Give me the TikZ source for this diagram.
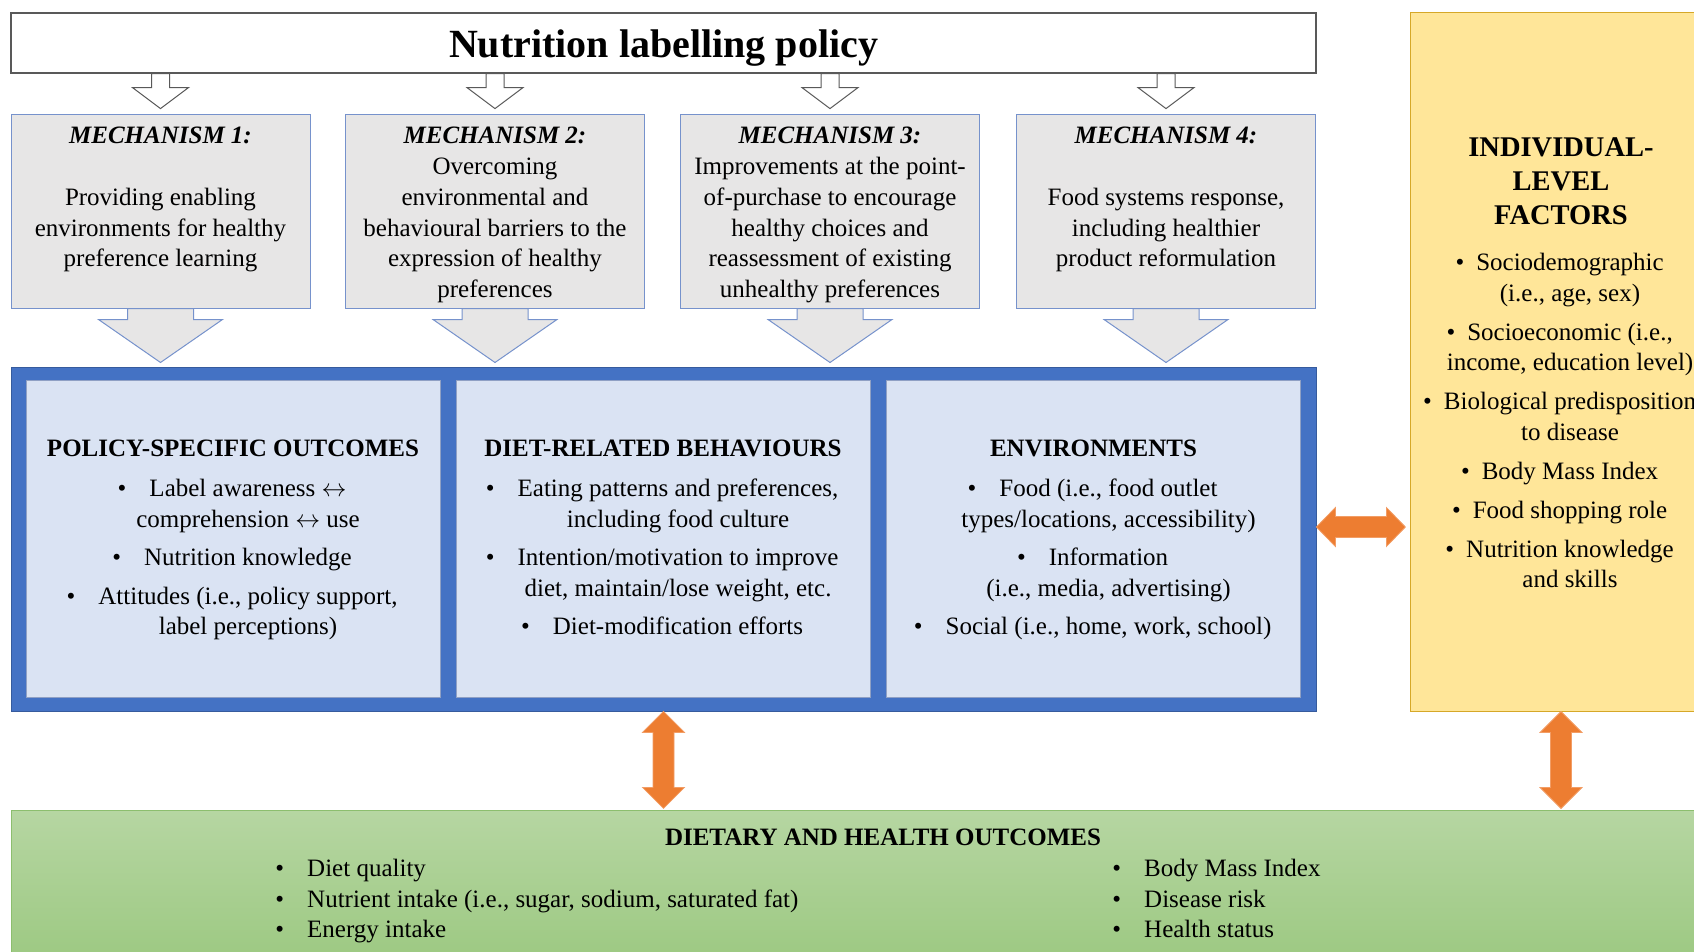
\documentclass[tikz,border=0pt]{standalone}
\usepackage{fontspec}
\setmainfont{Liberation Serif}

\definecolor{mechgray}{RGB}{231,230,230}
\definecolor{mechline}{RGB}{118,146,204}
\definecolor{frameblue}{RGB}{68,114,196}
\definecolor{paneblue}{RGB}{218,227,243}
\definecolor{paneline}{RGB}{143,160,196}
\definecolor{factyellow}{RGB}{255,230,153}
\definecolor{factline}{RGB}{214,168,40}
\definecolor{linkorange}{RGB}{237,125,49}
\definecolor{healthtop}{RGB}{182,214,162}
\definecolor{healthbot}{RGB}{155,200,128}
\definecolor{healthline}{RGB}{140,190,110}

% hanging bullet, kept out of the line centring
\newcommand{\bul}[1][23pt]{\leavevmode\llap{\textbullet\hspace{#1}}}

% block arrow pointing down: style, start, shaft/2, head/2, shaft length, head length
\newcommand{\feedarrow}[6]{%
  \draw[#1] (#2) ++(-#3,0) -- ++(0,#5) -- ++(#3-#4,0) -- ++(#4,#6) -- ++(#4,-#6)
    -- ++(#3-#4,0) -- ++(0,-#5) -- cycle;}
% two-headed arrows, vertical and horizontal: start tip, length
\newcommand{\twowayv}[2]{%
  \draw[twoway] (#1) -- ++(21,21) -- ++(-10.5,0) -- ++(0,#2-42) -- ++(10.5,0) -- ++(-21,21)
    -- ++(-21,-21) -- ++(10.5,0) -- ++(0,42-#2) -- ++(-10.5,0) -- cycle;}
\newcommand{\twowayh}[2]{%
  \draw[twoway] (#1) -- ++(19,-19.5) -- ++(0,9) -- ++(#2-38,0) -- ++(0,-9) -- ++(19,19.5)
    -- ++(-19,19.5) -- ++(0,-9) -- ++(38-#2,0) -- ++(0,9) -- cycle;}

\tikzset{
  policybox/.style={draw=black!65, line width=1.2pt, fill=white, minimum width=1305pt, minimum height=60pt},
  mechbox/.style={draw=mechline, fill=mechgray, line width=1pt, minimum width=299pt, minimum height=193pt},
  mechtext/.style={anchor=north, align=center, inner sep=0pt, font=\fontsize{25}{30.8}\selectfont},
  pane/.style={draw=paneline, fill=paneblue, line width=0.8pt, minimum width=414pt, minimum height=317pt},
  head/.style={anchor=north, align=center, inner sep=0pt, font=\fontsize{25}{30.5}\selectfont\bfseries},
  items/.style={anchor=north, align=center, inner sep=0pt, font=\fontsize{25}{30.5}\selectfont},
  smallarrow/.style={draw=black!65, fill=white, line width=1pt},
  bigarrow/.style={draw=mechline, fill=mechgray, line width=1pt},
  twoway/.style={draw=linkorange!75!white, fill=linkorange, line width=0.8pt},
}

\begin{document}
\begin{tikzpicture}[x=1pt, y=-1pt]
  \useasboundingbox (0,0) rectangle (1694,952);

  % policy bar and the four mechanisms
  \node[policybox] (policy) at (663.5,43) {};
  \node[anchor=base, inner sep=0pt, font=\fontsize{40}{44}\selectfont\bfseries] (policytext) at (663.5,58) {Nutrition labelling policy};
  \foreach \n/\x in {1/160.5, 2/495, 3/830, 4/1166} {
    \node[mechbox] (m\n) at (\x,211.5) {};
    \feedarrow{smallarrow}{policy.south -| m\n.north}{9}{28}{14}{21}
    \feedarrow{bigarrow}{m\n.south}{33}{62}{11}{43}
  }
  \node[mechtext] (mtext1) at (160.5,127) {\textbf{\textit{MECHANISM 1:}}\\[30.8pt]Providing enabling\\environments for healthy\\preference learning};
  \node[mechtext] (mtext2) at (495,127) {\textbf{\textit{MECHANISM 2:}}\\Overcoming\\environmental and\\behavioural barriers to the\\expression of healthy\\preferences};
  \node[mechtext] (mtext3) at (830,127) {\textbf{\textit{MECHANISM 3:}}\\Improvements at the point-\\of-purchase to encourage\\healthy choices and\\reassessment of existing\\unhealthy preferences};
  \node[mechtext] (mtext4) at (1166,127) {\textbf{\textit{MECHANISM 4:}}\\[30.8pt]Food systems response,\\including healthier\\product reformulation};

  % blue frame with the three outcome panes
  \node[draw=frameblue!80!black, fill=frameblue, line width=0.8pt, minimum width=1305pt, minimum height=344pt] (frame) at (663.5,539) {};
  \node[pane] (policyout) at (233,538.5) {};
  \node[pane] (behaviour) at (663,538.5) {};
  \node[pane] (environ) at (1093.5,538.5) {};

  \node[head] (policyhead) at (233,440) {POLICY-SPECIFIC OUTCOMES};
  \node[items] (policyitems) at (248,479) {\bul Label awareness $\leftrightarrow$\\comprehension $\leftrightarrow$ use\\[8pt]\bul Nutrition knowledge\\[8pt]\bul Attitudes (i.e., policy support,\\label perceptions)};
  \node[head] (behavhead) at (663,440) {DIET-RELATED BEHAVIOURS};
  \node[items] (behavitems) at (678,479) {\bul Eating patterns and preferences,\\including food culture\\[8pt]\bul Intention/motivation to improve\\diet, maintain/lose weight, etc.\\[8pt]\bul Diet-modification efforts};
  \node[head] (envhead) at (1093.5,440) {ENVIRONMENTS};
  \node[items] (envitems) at (1108.5,479) {\bul Food (i.e., food outlet\\types/locations, accessibility)\\[8pt]\bul Information\\(i.e., media, advertising)\\[8pt]\bul Social (i.e., home, work, school)};

  % individual-level factors
  \node[draw=factline, fill=factyellow, line width=1pt, minimum width=302pt, minimum height=698pt] (factors) at (1561,362) {};
  \node[head, font=\fontsize{28.5}{34}\selectfont\bfseries] (facthead) at (1561,137) {INDIVIDUAL-\\LEVEL\\FACTORS};
  \node[items] (factitems) at (1570,253) {\bul[12pt]Sociodemographic\\(i.e., age, sex)\\[8.5pt]\bul[12pt]Socioeconomic (i.e.,\\income, education level)\\[8.5pt]\bul[12pt]Biological predisposition\\to disease\\[8.5pt]\bul[12pt]Body Mass Index\\[8.5pt]\bul[12pt]Food shopping role\\[8.5pt]\bul[12pt]Nutrition knowledge\\and skills};

  % dietary and health outcomes
  \node[draw=healthline, top color=healthtop, bottom color=healthbot, line width=1pt, minimum width=1710pt, minimum height=160pt] (health) at (866,890) {};
  \node[head] (healthhead) at (883,829) {DIETARY AND HEALTH OUTCOMES};
  \node[items, anchor=north west, align=left] (healthleft) at (307,859) {\bul Diet quality\\\bul Nutrient intake (i.e., sugar, sodium, saturated fat)\\\bul Energy intake};
  \node[items, anchor=north west, align=left] (healthright) at (1144,859) {\bul Body Mass Index\\\bul Disease risk\\\bul Health status};

  % links
  \twowayh{[yshift=12pt]frame.east}{89}
  \twowayv{frame.south}{97}
  \twowayv{factors.south}{97}
\end{tikzpicture}
\end{document}
